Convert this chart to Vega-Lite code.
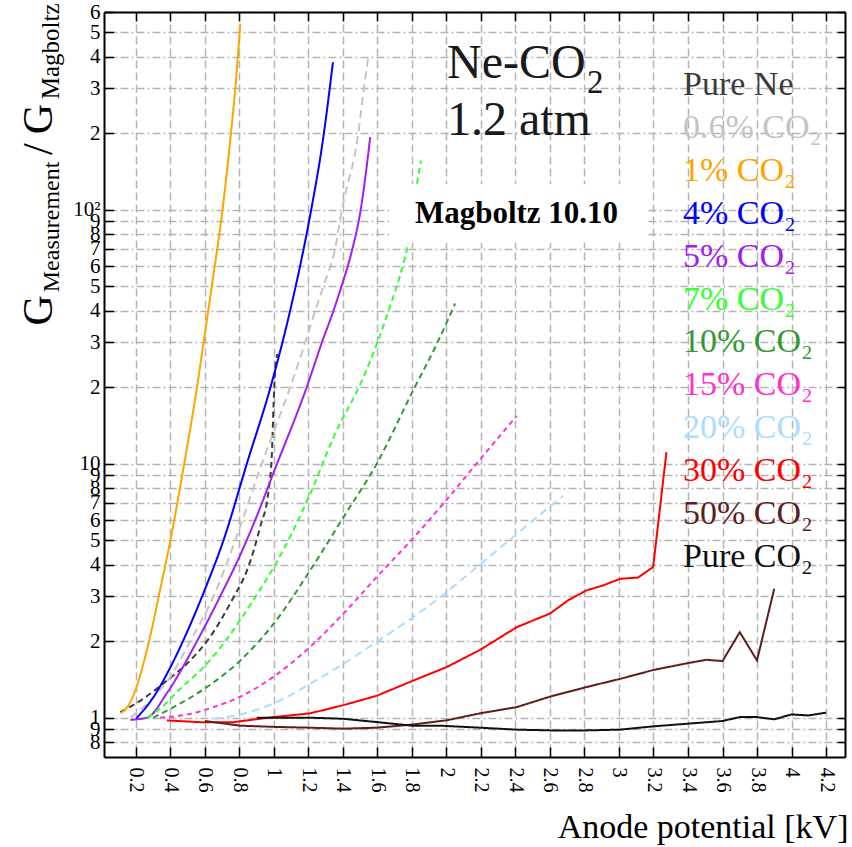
{
  "$schema": "https://vega.github.io/schema/vega-lite/v6.json",
  "width": 741,
  "height": 745,
  "autosize": {"type": "none"},
  "padding": {"left": 104, "top": 12, "right": 7, "bottom": 90},
  "background": "white",
  "config": {"view": {"stroke": null}, "font": "Liberation Serif", "axis": {"labelOverlap": false}},
  "datasets": {
    "curves": [
      {"s": "Pure Ne", "x": 0.11, "y": 1.05}, {"s": "Pure Ne", "x": 0.245, "y": 1.19}, {"s": "Pure Ne", "x": 0.38, "y": 1.4}, {"s": "Pure Ne", "x": 0.515, "y": 1.68}, {"s": "Pure Ne", "x": 0.63, "y": 2.08}, {"s": "Pure Ne", "x": 0.766, "y": 2.98}, {"s": "Pure Ne", "x": 0.844, "y": 3.8}, {"s": "Pure Ne", "x": 0.92, "y": 5.63}, {"s": "Pure Ne", "x": 0.969, "y": 7.85}, {"s": "Pure Ne", "x": 0.988, "y": 10.9}, {"s": "Pure Ne", "x": 0.998, "y": 17.2}, {"s": "Pure Ne", "x": 1.007, "y": 23.3}, {"s": "Pure Ne", "x": 1.02, "y": 27},
      {"s": "0.6% CO₂", "x": 0.17, "y": 1.0}, {"s": "0.6% CO₂", "x": 0.3, "y": 1.2}, {"s": "0.6% CO₂", "x": 0.4, "y": 1.45}, {"s": "0.6% CO₂", "x": 0.515, "y": 2.0}, {"s": "0.6% CO₂", "x": 0.65, "y": 3.0}, {"s": "0.6% CO₂", "x": 0.776, "y": 5.0}, {"s": "0.6% CO₂", "x": 0.93, "y": 10}, {"s": "0.6% CO₂", "x": 1.094, "y": 20}, {"s": "0.6% CO₂", "x": 1.181, "y": 30}, {"s": "0.6% CO₂", "x": 1.239, "y": 40}, {"s": "0.6% CO₂", "x": 1.287, "y": 50}, {"s": "0.6% CO₂", "x": 1.354, "y": 70}, {"s": "0.6% CO₂", "x": 1.394, "y": 100}, {"s": "0.6% CO₂", "x": 1.489, "y": 200}, {"s": "0.6% CO₂", "x": 1.52, "y": 295}, {"s": "0.6% CO₂", "x": 1.548, "y": 405},
      {"s": "1% CO₂", "x": 0.11, "y": 1.04}, {"s": "1% CO₂", "x": 0.15, "y": 1.1}, {"s": "1% CO₂", "x": 0.2, "y": 1.3}, {"s": "1% CO₂", "x": 0.255, "y": 1.75}, {"s": "1% CO₂", "x": 0.29, "y": 2.2}, {"s": "1% CO₂", "x": 0.332, "y": 3}, {"s": "1% CO₂", "x": 0.4, "y": 5}, {"s": "1% CO₂", "x": 0.48, "y": 10}, {"s": "1% CO₂", "x": 0.554, "y": 20}, {"s": "1% CO₂", "x": 0.592, "y": 30}, {"s": "1% CO₂", "x": 0.64, "y": 50}, {"s": "1% CO₂", "x": 0.702, "y": 100}, {"s": "1% CO₂", "x": 0.751, "y": 200}, {"s": "1% CO₂", "x": 0.776, "y": 300}, {"s": "1% CO₂", "x": 0.805, "y": 540},
      {"s": "4% CO₂", "x": 0.2, "y": 0.99}, {"s": "4% CO₂", "x": 0.3, "y": 1.2}, {"s": "4% CO₂", "x": 0.4, "y": 1.58}, {"s": "4% CO₂", "x": 0.5, "y": 2.2}, {"s": "4% CO₂", "x": 0.6, "y": 3.2}, {"s": "4% CO₂", "x": 0.708, "y": 5}, {"s": "4% CO₂", "x": 0.843, "y": 10}, {"s": "4% CO₂", "x": 0.98, "y": 20}, {"s": "4% CO₂", "x": 1.1, "y": 41.7}, {"s": "4% CO₂", "x": 1.216, "y": 100}, {"s": "4% CO₂", "x": 1.28, "y": 180}, {"s": "4% CO₂", "x": 1.342, "y": 381},
      {"s": "5% CO₂", "x": 0.168, "y": 0.98}, {"s": "5% CO₂", "x": 0.265, "y": 1.0}, {"s": "5% CO₂", "x": 0.38, "y": 1.25}, {"s": "5% CO₂", "x": 0.554, "y": 2}, {"s": "5% CO₂", "x": 0.688, "y": 3}, {"s": "5% CO₂", "x": 0.8, "y": 4.3}, {"s": "5% CO₂", "x": 0.9, "y": 6.2}, {"s": "5% CO₂", "x": 1.0, "y": 9.3}, {"s": "5% CO₂", "x": 1.19, "y": 20}, {"s": "5% CO₂", "x": 1.278, "y": 30}, {"s": "5% CO₂", "x": 1.345, "y": 40}, {"s": "5% CO₂", "x": 1.392, "y": 50}, {"s": "5% CO₂", "x": 1.45, "y": 68}, {"s": "5% CO₂", "x": 1.503, "y": 100}, {"s": "5% CO₂", "x": 1.558, "y": 193},
      {"s": "7% CO₂", "x": 0.265, "y": 1.0}, {"s": "7% CO₂", "x": 0.35, "y": 1.1}, {"s": "7% CO₂", "x": 0.457, "y": 1.3}, {"s": "7% CO₂", "x": 0.6, "y": 1.6}, {"s": "7% CO₂", "x": 0.718, "y": 2.0}, {"s": "7% CO₂", "x": 0.88, "y": 2.9}, {"s": "7% CO₂", "x": 1.0, "y": 3.92}, {"s": "7% CO₂", "x": 1.21, "y": 7.6}, {"s": "7% CO₂", "x": 1.345, "y": 12.7}, {"s": "7% CO₂", "x": 1.52, "y": 22}, {"s": "7% CO₂", "x": 1.596, "y": 29.6}, {"s": "7% CO₂", "x": 1.673, "y": 41.6}, {"s": "7% CO₂", "x": 1.75, "y": 61.3}, {"s": "7% CO₂", "x": 1.78, "y": 74.7}, {"s": "7% CO₂", "x": 1.828, "y": 125}, {"s": "7% CO₂", "x": 1.852, "y": 156},
      {"s": "10% CO₂", "x": 0.3, "y": 1.0}, {"s": "10% CO₂", "x": 0.418, "y": 1.1}, {"s": "10% CO₂", "x": 0.612, "y": 1.32}, {"s": "10% CO₂", "x": 0.805, "y": 1.68}, {"s": "10% CO₂", "x": 0.998, "y": 2.34}, {"s": "10% CO₂", "x": 1.21, "y": 3.8}, {"s": "10% CO₂", "x": 1.403, "y": 6.16}, {"s": "10% CO₂", "x": 1.596, "y": 10}, {"s": "10% CO₂", "x": 1.808, "y": 19.5}, {"s": "10% CO₂", "x": 1.944, "y": 29.6}, {"s": "10% CO₂", "x": 2.05, "y": 42.7},
      {"s": "15% CO₂", "x": 0.34, "y": 1.0}, {"s": "15% CO₂", "x": 0.5, "y": 1.03}, {"s": "15% CO₂", "x": 0.65, "y": 1.1}, {"s": "15% CO₂", "x": 0.805, "y": 1.21}, {"s": "15% CO₂", "x": 0.998, "y": 1.45}, {"s": "15% CO₂", "x": 1.21, "y": 1.9}, {"s": "15% CO₂", "x": 1.403, "y": 2.57}, {"s": "15% CO₂", "x": 1.596, "y": 3.58}, {"s": "15% CO₂", "x": 1.808, "y": 5.1}, {"s": "15% CO₂", "x": 2.0, "y": 7.2}, {"s": "15% CO₂", "x": 2.195, "y": 10.4}, {"s": "15% CO₂", "x": 2.407, "y": 15.4},
      {"s": "20% CO₂", "x": 0.65, "y": 0.99}, {"s": "20% CO₂", "x": 0.805, "y": 1.03}, {"s": "20% CO₂", "x": 1.0, "y": 1.14}, {"s": "20% CO₂", "x": 1.21, "y": 1.36}, {"s": "20% CO₂", "x": 1.403, "y": 1.63}, {"s": "20% CO₂", "x": 1.596, "y": 1.99}, {"s": "20% CO₂", "x": 1.808, "y": 2.49}, {"s": "20% CO₂", "x": 1.963, "y": 2.98}, {"s": "20% CO₂", "x": 2.2, "y": 4.04}, {"s": "20% CO₂", "x": 2.4, "y": 5.24}, {"s": "20% CO₂", "x": 2.676, "y": 7.47},
      {"s": "30% CO₂", "x": 0.38, "y": 0.975}, {"s": "30% CO₂", "x": 0.573, "y": 0.96}, {"s": "30% CO₂", "x": 0.766, "y": 0.96}, {"s": "30% CO₂", "x": 0.998, "y": 1.005}, {"s": "30% CO₂", "x": 1.21, "y": 1.04}, {"s": "30% CO₂", "x": 1.403, "y": 1.12}, {"s": "30% CO₂", "x": 1.596, "y": 1.22}, {"s": "30% CO₂", "x": 1.808, "y": 1.4}, {"s": "30% CO₂", "x": 2.0, "y": 1.58}, {"s": "30% CO₂", "x": 2.195, "y": 1.85}, {"s": "30% CO₂", "x": 2.407, "y": 2.27}, {"s": "30% CO₂", "x": 2.6, "y": 2.57}, {"s": "30% CO₂", "x": 2.706, "y": 2.9}, {"s": "30% CO₂", "x": 2.812, "y": 3.17}, {"s": "30% CO₂", "x": 2.91, "y": 3.32}, {"s": "30% CO₂", "x": 3.005, "y": 3.52}, {"s": "30% CO₂", "x": 3.11, "y": 3.56}, {"s": "30% CO₂", "x": 3.198, "y": 3.92}, {"s": "30% CO₂", "x": 3.275, "y": 11.1},
      {"s": "50% CO₂", "x": 0.6, "y": 0.97}, {"s": "50% CO₂", "x": 0.805, "y": 0.93}, {"s": "50% CO₂", "x": 0.998, "y": 0.92}, {"s": "50% CO₂", "x": 1.21, "y": 0.913}, {"s": "50% CO₂", "x": 1.403, "y": 0.905}, {"s": "50% CO₂", "x": 1.596, "y": 0.913}, {"s": "50% CO₂", "x": 1.808, "y": 0.94}, {"s": "50% CO₂", "x": 2.0, "y": 0.976}, {"s": "50% CO₂", "x": 2.195, "y": 1.04}, {"s": "50% CO₂", "x": 2.407, "y": 1.1}, {"s": "50% CO₂", "x": 2.6, "y": 1.21}, {"s": "50% CO₂", "x": 2.812, "y": 1.32}, {"s": "50% CO₂", "x": 3.005, "y": 1.42}, {"s": "50% CO₂", "x": 3.198, "y": 1.54}, {"s": "50% CO₂", "x": 3.4, "y": 1.64}, {"s": "50% CO₂", "x": 3.507, "y": 1.69}, {"s": "50% CO₂", "x": 3.6, "y": 1.67}, {"s": "50% CO₂", "x": 3.7, "y": 2.17}, {"s": "50% CO₂", "x": 3.8, "y": 1.68}, {"s": "50% CO₂", "x": 3.9, "y": 3.22},
      {"s": "Pure CO₂", "x": 0.9, "y": 1.0}, {"s": "Pure CO₂", "x": 1.2, "y": 1.0}, {"s": "Pure CO₂", "x": 1.4, "y": 0.99}, {"s": "Pure CO₂", "x": 1.6, "y": 0.96}, {"s": "Pure CO₂", "x": 1.8, "y": 0.93}, {"s": "Pure CO₂", "x": 1.963, "y": 0.93}, {"s": "Pure CO₂", "x": 2.195, "y": 0.913}, {"s": "Pure CO₂", "x": 2.407, "y": 0.897}, {"s": "Pure CO₂", "x": 2.6, "y": 0.891}, {"s": "Pure CO₂", "x": 2.812, "y": 0.891}, {"s": "Pure CO₂", "x": 3.005, "y": 0.897}, {"s": "Pure CO₂", "x": 3.198, "y": 0.924}, {"s": "Pure CO₂", "x": 3.4, "y": 0.947}, {"s": "Pure CO₂", "x": 3.6, "y": 0.97}, {"s": "Pure CO₂", "x": 3.7, "y": 1.005}, {"s": "Pure CO₂", "x": 3.8, "y": 1.005}, {"s": "Pure CO₂", "x": 3.9, "y": 0.985}, {"s": "Pure CO₂", "x": 4.0, "y": 1.03}, {"s": "Pure CO₂", "x": 4.096, "y": 1.02}, {"s": "Pure CO₂", "x": 4.2, "y": 1.046}
    ]
  },
  "resolve": {"axis": {"x": "independent", "y": "independent"}},
  "layer": [
    {
      "layer": [
        {
          "data": {"name": "curves"},
          "transform": [{"filter": "datum.s != '30% CO₂' && datum.s != '50% CO₂' && datum.s != 'Pure CO₂'"}],
          "mark": {"type": "line", "strokeWidth": 2, "interpolate": "monotone"},
          "encoding": {
            "x": {"field": "x", "type": "quantitative",
              "scale": {"domain": [0.015, 4.31], "nice": false, "zero": false},
              "axis": {"values": [0.2,0.4,0.6,0.8,1,1.2,1.4,1.6,1.8,2,2.2,2.4,2.6,2.8,3,3.2,3.4,3.6,3.8,4,4.2], "tickCount": 60,
                "format": "~g", "labelAngle": 90, "labelFont": "Liberation Serif", "labelFontSize": 20, "labelColor": "black", "labelOverlap": false, "labelBound": false, "labelFlush": false,
                "tickSize": -10, "tickColor": "black", "tickWidth": 1.5, "labelPadding": 20,
                "domainColor": "black", "domainWidth": 2,
                "grid": true, "gridColor": "#b4b4b4", "gridDash": [8, 4], "gridWidth": 1.5,
                "title": "Anode potential [kV]", "titleFont": "Liberation Serif", "titleFontSize": 34, "titleFontWeight": "normal", "titleColor": "black",
                "titleAnchor": "end", "titleAlign": "right", "titleX": 744, "titleY": 80, "titleBaseline": "alphabetic"}},
            "y": {"field": "y", "type": "quantitative",
              "scale": {"type": "log", "domain": [0.7, 600], "nice": false},
              "axis": {"values": [0.8,0.9,1,2,3,4,5,6,7,8,9,10,20,30,40,50,60,70,80,90,100,200,300,400,500,600], "tickCount": 60,
                "labelExpr": "datum.value==100 ? '10²' : datum.value==10 ? '10' : datum.value==1 ? '1' : format(datum.value/pow(10, floor(log(datum.value)/LN10 + 1e-9)), '.0f')",
                "labelFont": "Liberation Serif", "labelFontSize": 21, "labelColor": "black", "labelOverlap": false, "labelBound": false, "labelFlush": false,
                "tickSize": -10, "tickColor": "black", "tickWidth": 1.5, "labelPadding": 14,
                "domainColor": "black", "domainWidth": 2,
                "grid": true, "gridColor": "#b4b4b4", "gridDash": [8, 3, 2, 3], "gridWidth": 1.5,
                "title": null}},
            "color": {"field": "s", "type": "nominal",
              "scale": {"domain": ["Pure Ne","0.6% CO₂","1% CO₂","4% CO₂","5% CO₂","7% CO₂","10% CO₂","15% CO₂","20% CO₂","30% CO₂","50% CO₂","Pure CO₂"],
                "range": ["#3c3c3c","#c4c4c4","#ffa500","#0000ff","#a020f0","#33ff33","#339933","#ff33cc","#aaddff","#ff0000","#5c1f1f","#111111"]},
              "legend": {"orient": "none", "legendX": 545, "legendY": 56, "title": null, "padding": 0,
                "symbolSize": 0, "symbolStrokeWidth": 0, "symbolOpacity": 0, "labelOffset": 0,
                "labelFont": "Liberation Serif", "labelFontSize": 34, "labelLimit": 400, "rowPadding": 8.9,
                "encode": {"labels": {"update": {"fill": {"signal": "scale('color', datum.value)"}}}}}},
            "strokeDash": {"field": "s", "type": "nominal",
              "scale": {"domain": ["Pure Ne","0.6% CO₂","1% CO₂","4% CO₂","5% CO₂","7% CO₂","10% CO₂","15% CO₂","20% CO₂","30% CO₂","50% CO₂","Pure CO₂"],
                "range": [[6,4],[8,5],[1,0],[1,0],[1,0],[6,4],[6,4],[5,4],[8,5],[1,0],[1,0],[1,0]]},
              "legend": null}
          }
        },
        {
          "data": {"name": "curves"},
          "transform": [{"filter": "datum.s == '30% CO₂' || datum.s == '50% CO₂' || datum.s == 'Pure CO₂'"}],
          "mark": {"type": "line", "strokeWidth": 2},
          "encoding": {
            "x": {"field": "x", "type": "quantitative"},
            "y": {"field": "y", "type": "quantitative"},
            "color": {"field": "s", "type": "nominal"},
            "strokeDash": {"field": "s", "type": "nominal", "legend": null}
          }
        },
        {
          "data": {"values": [{}]},
          "mark": {"type": "rect", "fill": "white"},
          "encoding": {"x": {"datum": 1.67}, "x2": {"datum": 3.16}, "y": {"datum": 126}, "y2": {"datum": 74}}
        },
        {
          "data": {"values": [{}]},
          "mark": {"type": "text", "text": "Magboltz 10.10", "font": "Liberation Serif", "fontSize": 31, "fontWeight": "bold", "align": "left", "baseline": "alphabetic", "color": "black"},
          "encoding": {"x": {"datum": 1.817}, "y": {"datum": 88.3}}
        },
        {
          "data": {"values": [{}]},
          "mark": {"type": "text", "text": "Ne-CO", "font": "Liberation Serif", "fontSize": 48, "align": "left", "baseline": "alphabetic", "color": "#1a1a1a"},
          "encoding": {"x": {"datum": 2.003}, "y": {"datum": 329}}
        },
        {
          "data": {"values": [{}]},
          "mark": {"type": "text", "text": "2", "font": "Liberation Serif", "fontSize": 33, "align": "left", "baseline": "alphabetic", "color": "#1a1a1a"},
          "encoding": {"x": {"datum": 2.815}, "y": {"datum": 287}}
        },
        {
          "data": {"values": [{}]},
          "mark": {"type": "text", "text": "1.2 atm", "font": "Liberation Serif", "fontSize": 48, "align": "left", "baseline": "alphabetic", "color": "#1a1a1a"},
          "encoding": {"x": {"datum": 2.003}, "y": {"datum": 196}}
        },
        {
          "data": {"values": [{}]},
          "mark": {"type": "text", "text": "G", "font": "Liberation Serif", "fontSize": 42, "angle": 270, "align": "left", "baseline": "alphabetic", "color": "black"},
          "encoding": {"x": {"datum": -0.287}, "y": {"datum": 35}}
        },
        {
          "data": {"values": [{}]},
          "mark": {"type": "text", "text": "Measurement", "font": "Liberation Serif", "fontSize": 24, "angle": 270, "align": "left", "baseline": "alphabetic", "color": "black"},
          "encoding": {"x": {"datum": -0.246}, "y": {"datum": 47.3}}
        },
        {
          "data": {"values": [{}]},
          "mark": {"type": "text", "text": "/", "font": "Liberation Serif", "fontSize": 42, "angle": 270, "align": "left", "baseline": "alphabetic", "color": "black"},
          "encoding": {"x": {"datum": -0.287}, "y": {"datum": 164}}
        },
        {
          "data": {"values": [{}]},
          "mark": {"type": "text", "text": "G", "font": "Liberation Serif", "fontSize": 42, "angle": 270, "align": "left", "baseline": "alphabetic", "color": "black"},
          "encoding": {"x": {"datum": -0.287}, "y": {"datum": 198}}
        },
        {
          "data": {"values": [{}]},
          "mark": {"type": "text", "text": "Magboltz", "font": "Liberation Serif", "fontSize": 25, "angle": 270, "align": "left", "baseline": "alphabetic", "color": "black"},
          "encoding": {"x": {"datum": -0.246}, "y": {"datum": 272}}
        }
      ]
    },
    {
      "data": {"name": "curves"},
      "mark": {"type": "point", "opacity": 0},
      "encoding": {
        "x": {"field": "x", "type": "quantitative",
          "axis": {"orient": "top", "values": [0.2,0.4,0.6,0.8,1,1.2,1.4,1.6,1.8,2,2.2,2.4,2.6,2.8,3,3.2,3.4,3.6,3.8,4,4.2], "tickCount": 60,
            "labels": false, "tickSize": -9, "tickColor": "black", "tickWidth": 1.5, "domainColor": "black", "domainWidth": 2, "grid": false, "title": null}},
        "y": {"field": "y", "type": "quantitative",
          "axis": {"orient": "right", "values": [0.8,0.9,1,2,3,4,5,6,7,8,9,10,20,30,40,50,60,70,80,90,100,200,300,400,500,600], "tickCount": 60,
            "labels": false, "tickSize": -8, "tickColor": "black", "tickWidth": 1.5, "domainColor": "black", "domainWidth": 2, "grid": false, "title": null}}
      }
    }
  ]
}
